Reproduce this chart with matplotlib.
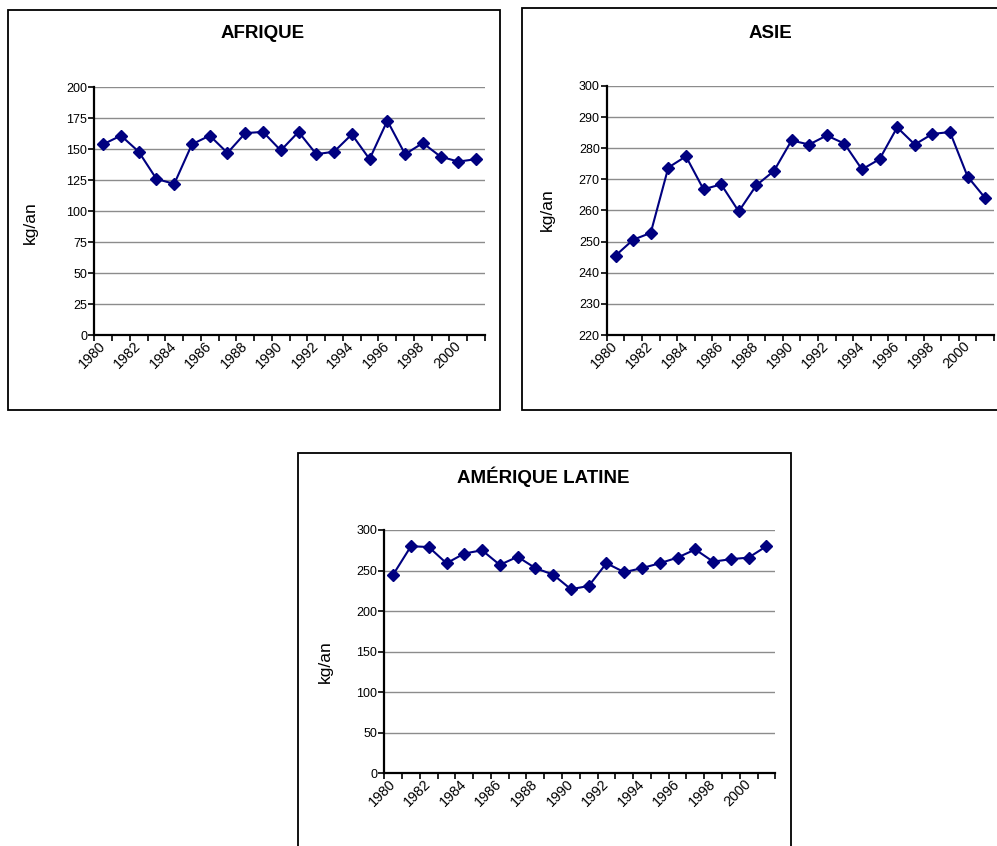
"""
Consommation annuelle par habitant (kg/an), 1980-2001, par région.
Trois graphiques linéaires dans le style d'un tableur, enregistrés dans out.png.
"""

import matplotlib
matplotlib.use("Agg")
import matplotlib.pyplot as plt
from matplotlib.patches import Rectangle

plt.rcParams["font.family"] = ["Liberation Sans", "DejaVu Sans"]

YEARS = list(range(1980, 2002))
YEAR_LABELS = [str(y) for y in range(1980, 2001, 2)]

AFRIQUE = [154, 161, 148, 126, 122, 154, 161, 147, 163, 164, 149, 164,
           146, 148, 162, 142, 173, 146, 155, 144, 140, 142]
ASIE = [245.5, 250.6, 252.8, 273.8, 277.4, 266.8, 268.4, 259.7, 268.1, 272.7, 282.5,
        281.2, 284.1, 281.5, 273.2, 276.5, 286.7, 281.2, 284.6, 285.2, 270.9, 264.0]
AMERIQUE_LATINE = [245, 280, 279, 259, 271, 275, 257, 267, 253, 245, 227,
                   231, 259, 248, 253, 259, 266, 276, 261, 264, 266, 280]

W, H = 997, 846
LINE_COLOR = "#000080"
GRID_COLOR = "#8c8c8c"


def fig_box(left, top, right, bottom):
    """Pixel box (origin top-left) -> figure fraction [x, y, w, h]."""
    return [left / W, 1 - bottom / H, (right - left) / W, (bottom - top) / H]


def add_frame(fig, left, top, right, bottom):
    x, y, w, h = fig_box(left, top, right, bottom)
    fig.add_artist(Rectangle((x, y), w, h, transform=fig.transFigure,
                             fill=False, edgecolor="black", linewidth=1.3))


def draw_panel(fig, box, values, yticks, title, title_xy, ylabel_xy):
    ax = fig.add_axes(fig_box(*box))
    n = len(values)
    x = list(range(n))
    ax.plot(x, values, color=LINE_COLOR, linewidth=1.5, marker="D",
            markersize=6.3, markerfacecolor=LINE_COLOR, markeredgecolor=LINE_COLOR,
            zorder=3, clip_on=False)

    ax.set_xlim(-0.5, n - 0.5)
    ax.set_ylim(yticks[0], yticks[-1])

    # category boundaries carry the tick marks, labels sit on every second year
    ax.set_xticks([i - 0.5 for i in range(n + 1)])
    ax.set_xticklabels([])
    ax.set_xticks(list(range(0, n - 1, 2)), YEAR_LABELS, minor=True)
    ax.tick_params(axis="x", which="major", direction="out", length=4, width=1.2)
    ax.tick_params(axis="x", which="minor", length=0, pad=6, labelsize=10.3)
    for lbl in ax.get_xticklabels(minor=True):
        lbl.set_rotation(45)
        lbl.set_ha("right")
        lbl.set_va("center")
        lbl.set_rotation_mode("anchor")

    ax.set_yticks(yticks)
    ax.tick_params(axis="y", direction="out", length=4, width=1.2, labelsize=9, pad=1)

    for yv in yticks[1:]:
        ax.axhline(yv, color=GRID_COLOR, linewidth=1.0, zorder=1)

    for side in ("top", "right"):
        ax.spines[side].set_visible(False)
    for side in ("left", "bottom"):
        ax.spines[side].set_linewidth(1.6)
        ax.spines[side].set_zorder(2)

    fig.text(title_xy[0] / W, 1 - title_xy[1] / H, title, ha="center", va="center",
             fontsize=13.5, fontweight="bold")
    fig.text(ylabel_xy[0] / W, 1 - ylabel_xy[1] / H, "kg/an", ha="center", va="center",
             rotation=90, fontsize=12.5)
    return ax


def main():
    fig = plt.figure(figsize=(W / 100, H / 100), dpi=100)

    add_frame(fig, 8, 10, 500, 410)
    add_frame(fig, 522, 8, 997.5, 410)
    add_frame(fig, 297.5, 453.5, 791, 850)

    draw_panel(fig, (94.3, 87.3, 485, 335), AFRIQUE,
               [0, 25, 50, 75, 100, 125, 150, 175, 200],
               "AFRIQUE", (263, 33), (30, 223))
    draw_panel(fig, (606.7, 86, 994, 335), ASIE,
               [220, 230, 240, 250, 260, 270, 280, 290, 300],
               "ASIE", (770, 33), (547, 210))
    draw_panel(fig, (384.3, 530, 775.3, 773.3), AMERIQUE_LATINE,
               [0, 50, 100, 150, 200, 250, 300],
               "AMÉRIQUE LATINE", (543, 477), (325, 662))

    fig.savefig("out.png", dpi=100)
    plt.close(fig)


if __name__ == "__main__":
    main()
